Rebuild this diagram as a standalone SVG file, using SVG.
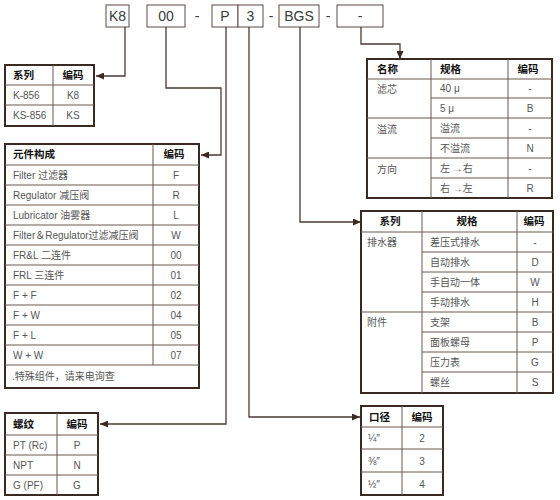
<svg xmlns="http://www.w3.org/2000/svg" width="560" height="500" viewBox="0 0 560 500">
<defs>
<style>
.box{fill:#fff;stroke:#5a4a44;stroke-width:1}
.code{font-family:"Liberation Sans",Arial,sans-serif;font-size:14px;fill:#3a3a3a;text-anchor:middle}
.tb{fill:#fff;stroke:#3b2a22;stroke-width:2}
.ln{stroke:#6a5850;stroke-width:1;fill:none}
.h{font-family:"Noto Sans CJK SC",sans-serif;font-weight:bold;font-size:10.5px;fill:#111}
.t{font-family:"Liberation Sans","Noto Sans CJK SC",sans-serif;font-size:10px;fill:#555}
.c{text-anchor:middle}
.conn{fill:none;stroke:#4a3a34;stroke-width:1.3}
</style>
<marker id="arr" markerUnits="userSpaceOnUse" markerWidth="8" markerHeight="7" refX="8" refY="3.5" orient="auto">
<path d="M0,0 L8,3.5 L0,7 z" fill="#3b2a22"/>
</marker>
</defs>
<rect width="560" height="500" fill="#fff"/>

<g id="code-row">
<rect class="box" x="106" y="5" width="23" height="22"/><text class="code" x="117.5" y="21">K8</text>
<rect class="box" x="147" y="5" width="38" height="22"/><text class="code" x="166" y="21">00</text>
<text class="code" x="197" y="21">-</text>
<rect class="box" x="212" y="5" width="26" height="22"/><text class="code" x="225" y="21">P</text>
<rect class="box" x="238" y="5" width="25" height="22"/><text class="code" x="250.5" y="21">3</text>
<text class="code" x="271" y="21">-</text>
<rect class="box" x="279" y="5" width="40" height="22"/><text class="code" x="299" y="21">BGS</text>
<text class="code" x="328" y="21">-</text>
<rect class="box" x="337" y="5" width="46" height="22"/><text class="code" x="360" y="21">-</text>
</g>

<g id="connectors">
<path class="conn" d="M125,27 V76 H96" marker-end="url(#arr)"/>
<path class="conn" d="M166,27 V88 H221 V155 H201" marker-end="url(#arr)"/>
<path class="conn" d="M226,27 V424 H100" marker-end="url(#arr)"/>
<path class="conn" d="M249,27 V417 H360" marker-end="url(#arr)"/>
<path class="conn" d="M300,27 V222 H361" marker-end="url(#arr)"/>
<path class="conn" d="M361,27 V44 H400 V59" marker-end="url(#arr)"/>
</g>

<g id="series-table">
<rect class="tb" x="5" y="65" width="89" height="61"/>
<path class="ln" d="M53,65 V126 M5,85 H94 M5,105 H94"/>
<text class="h" x="13" y="79">系列</text><text class="h c" x="73" y="79">编码</text>
<text class="t" x="13" y="99">K-856</text><text class="t c" x="73" y="99">K8</text>
<text class="t" x="13" y="119">KS-856</text><text class="t c" x="73" y="119">KS</text>
</g>

<g id="element-table">
<rect class="tb" x="5" y="144" width="194" height="244"/>
<path class="ln" d="M153,144 V365 M5,165 H199 M5,185 H199 M5,205 H199 M5,225 H199 M5,245 H199 M5,265 H199 M5,285 H199 M5,305 H199 M5,325 H199 M5,345 H199 M5,365 H199"/>
<text class="h" x="13" y="158">元件构成</text><text class="h c" x="174" y="158">编码</text>
<text class="t" x="13" y="179">Filter 过滤器</text><text class="t c" x="176" y="179">F</text>
<text class="t" x="13" y="199">Regulator 减压阀</text><text class="t c" x="176" y="199">R</text>
<text class="t" x="13" y="219">Lubricator 油雾器</text><text class="t c" x="176" y="219">L</text>
<text class="t" x="13" y="239">Filter＆Regulator过滤减压阀</text><text class="t c" x="176" y="239">W</text>
<text class="t" x="13" y="259">FR&amp;L 二连件</text><text class="t c" x="176" y="259">00</text>
<text class="t" x="13" y="279">FRL 三连件</text><text class="t c" x="176" y="279">01</text>
<text class="t" x="13" y="299">F + F</text><text class="t c" x="176" y="299">02</text>
<text class="t" x="13" y="319">F + W</text><text class="t c" x="176" y="319">04</text>
<text class="t" x="13" y="339">F + L</text><text class="t c" x="176" y="339">05</text>
<text class="t" x="13" y="359">W + W</text><text class="t c" x="176" y="359">07</text>
<text class="t" x="12" y="380" fill="#333">.特殊组件，请来电询查</text>
</g>

<g id="thread-table">
<rect class="tb" x="5" y="413" width="93" height="82"/>
<path class="ln" d="M57,413 V495 M5,435 H98 M5,455 H98 M5,475 H98"/>
<text class="h" x="13" y="428">螺纹</text><text class="h c" x="77" y="428">编码</text>
<text class="t" x="13" y="449">PT (Rc)</text><text class="t c" x="77" y="449">P</text>
<text class="t" x="13" y="469">NPT</text><text class="t c" x="77" y="469">N</text>
<text class="t" x="13" y="489">G (PF)</text><text class="t c" x="77" y="489">G</text>
</g>

<g id="filter-table">
<rect class="tb" x="367" y="59" width="185" height="139"/>
<path class="ln" d="M431,59 V198 M508,59 V198 M367,79 H552 M431,98 H552 M367,118 H552 M431,138 H552 M367,158 H552 M431,178 H552"/>
<text class="h" x="377" y="73">名称</text><text class="h" x="440" y="73">规格</text><text class="h c" x="528" y="73">编码</text>
<text class="t" x="377" y="93" fill="#333">滤芯</text>
<text class="t" x="440" y="92">40 μ</text><text class="t c" x="530" y="92">-</text>
<text class="t" x="440" y="112">5 μ</text><text class="t c" x="530" y="112">B</text>
<text class="t" x="377" y="133" fill="#333">溢流</text>
<text class="t" x="440" y="132">溢流</text><text class="t c" x="530" y="132">-</text>
<text class="t" x="440" y="152">不溢流</text><text class="t c" x="530" y="152">N</text>
<text class="t" x="377" y="173" fill="#333">方向</text>
<text class="t" x="440" y="172">左 →右</text><text class="t c" x="530" y="172">-</text>
<text class="t" x="440" y="192">右 →左</text><text class="t c" x="530" y="192">R</text>
</g>

<g id="drain-table">
<rect class="tb" x="361" y="211" width="192" height="182"/>
<path class="ln" d="M422,211 V393 M517,211 V393 M361,232 H553 M422,252 H553 M422,272 H553 M422,292 H553 M361,312 H553 M422,332 H553 M422,352 H553 M422,372 H553"/>
<text class="h c" x="390" y="225">系列</text><text class="h c" x="467" y="225">规格</text><text class="h c" x="534" y="225">编码</text>
<text class="t" x="367" y="246" fill="#333">排水器</text>
<text class="t" x="430" y="246">差压式排水</text><text class="t c" x="535" y="246">-</text>
<text class="t" x="430" y="266">自动排水</text><text class="t c" x="535" y="266">D</text>
<text class="t" x="430" y="286">手自动一体</text><text class="t c" x="535" y="286">W</text>
<text class="t" x="430" y="306">手动排水</text><text class="t c" x="535" y="306">H</text>
<text class="t" x="367" y="326" fill="#333">附件</text>
<text class="t" x="430" y="326">支架</text><text class="t c" x="535" y="326">B</text>
<text class="t" x="430" y="346">面板螺母</text><text class="t c" x="535" y="346">P</text>
<text class="t" x="430" y="366">压力表</text><text class="t c" x="535" y="366">G</text>
<text class="t" x="430" y="386">螺丝</text><text class="t c" x="535" y="386">S</text>
</g>

<g id="caliber-table">
<rect class="tb" x="361" y="406" width="82" height="89"/>
<path class="ln" d="M402,406 V495 M361,427 H443 M361,449 H443 M361,472 H443"/>
<text class="h" x="369" y="421">口径</text><text class="h c" x="422" y="421">编码</text>
<text class="t" x="368" y="442">¼″</text><text class="t c" x="422" y="442">2</text>
<text class="t" x="368" y="465">⅜″</text><text class="t c" x="422" y="465">3</text>
<text class="t" x="368" y="488">½″</text><text class="t c" x="422" y="488">4</text>
</g>
</svg>
